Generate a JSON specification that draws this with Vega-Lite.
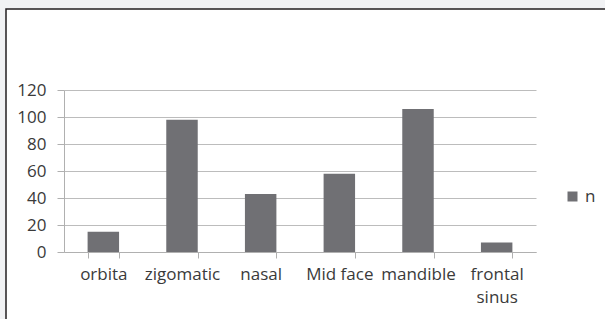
{
  "$schema": "https://vega.github.io/schema/vega-lite/v6.json",
  "autosize": {"type": "none"},
  "padding": {"left": 6, "top": 9, "right": -3, "bottom": -3},
  "width": 602,
  "height": 313,
  "background": "#f1f2f4",
  "config": {
    "view": {"fill": "white", "stroke": "#231f20", "strokeWidth": 1.5},
    "font": "Open Sans"
  },
  "data": {
    "values": [
      {"site": "orbita", "series": "n", "n": 15},
      {"site": "zigomatic", "series": "n", "n": 98},
      {"site": "nasal", "series": "n", "n": 43},
      {"site": "Mid face", "series": "n", "n": 58},
      {"site": "mandible", "series": "n", "n": 106},
      {"site": "frontal sinus", "series": "n", "n": 7}
    ]
  },
  "mark": {"type": "bar"},
  "encoding": {
    "x": {
      "field": "site",
      "type": "nominal",
      "sort": null,
      "scale": {"range": [58, 530], "paddingInner": 0.6, "paddingOuter": 0.3},
      "axis": {
        "title": null,
        "labelAngle": 0,
        "offset": -70,
        "labelExpr": "datum.label == 'frontal sinus' ? ['frontal', 'sinus'] : datum.label",
        "labelFontSize": 17,
        "labelColor": "#3a3a3a",
        "labelPadding": 8,
        "labelLineHeight": 23,
        "labelBaseline": "top",
        "tickBand": "extent",
        "tickSize": 6,
        "tickColor": "#b0b0b0",
        "domainColor": "#b0b0b0",
        "grid": false
      }
    },
    "y": {
      "field": "n",
      "type": "quantitative",
      "scale": {"domain": [0, 120], "range": [243, 81], "nice": false},
      "axis": {
        "title": null,
        "values": [0, 20, 40, 60, 80, 100, 120],
        "offset": -58,
        "labelFontSize": 17,
        "labelColor": "#3a3a3a",
        "labelPadding": 11,
        "tickSize": 7,
        "tickColor": "#b0b0b0",
        "domainColor": "#b0b0b0",
        "grid": true,
        "gridColor": "#bcbcbc"
      }
    },
    "y2": {"datum": 0},
    "color": {
      "field": "series",
      "type": "nominal",
      "scale": {"range": ["#707074"]},
      "legend": {
        "title": null,
        "orient": "none",
        "legendX": 558,
        "legendY": 179,
        "symbolType": "square",
        "symbolSize": 100,
        "labelFontSize": 17,
        "labelOffset": 4,
        "labelColor": "#3a3a3a"
      }
    }
  }
}
